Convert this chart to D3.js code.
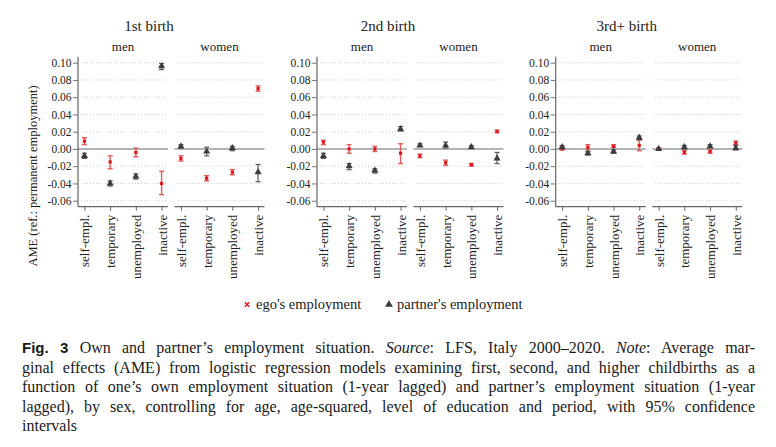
<!DOCTYPE html>
<html>
<head>
<meta charset="utf-8">
<script src="https://cdn.jsdelivr.net/npm/d3@7"></script>
<style>
  body { margin: 0; background: #fff; }
  svg { display: block; }
  svg text { font-family: "Liberation Serif", "Times New Roman", serif; }
</style>
</head>
<body>
<div id="chart"></div>
<script>
// panels and categories
const births = ["1st birth", "2nd birth", "3rd+ birth"];
const sexes = ["men", "women"];
const categories = ["self-empl.", "temporary", "unemployed", "inactive"];
const yTicks = [0.10, 0.08, 0.06, 0.04, 0.02, 0.00, -0.02, -0.04, -0.06];

// AME estimates, [birth][sex][category]
const egoAME = [
  [[0.009, -0.015, -0.004, -0.040], [-0.011, -0.034, -0.027, 0.070]],
  [[0.008, 0.000, 0.000, -0.005], [-0.008, -0.016, -0.018, 0.020]],
  [[0.000, 0.002, 0.003, 0.004], [0.000, -0.004, -0.003, 0.007]]
];
const egoLow = [
  [[0.005, -0.023, -0.009, -0.053], [-0.014, -0.037, -0.030, 0.067]],
  [[0.005, -0.005, -0.003, -0.017], [-0.010, -0.019, -0.020, 0.019]],
  [[-0.001, -0.001, 0.002, -0.002], [-0.001, -0.006, -0.005, 0.005]]
];
const egoHigh = [
  [[0.013, -0.008, 0.001, -0.026], [-0.008, -0.031, -0.024, 0.073]],
  [[0.010, 0.005, 0.003, 0.006], [-0.006, -0.013, -0.017, 0.022]],
  [[0.002, 0.005, 0.005, 0.010], [0.001, -0.002, -0.001, 0.009]]
];
const partnerAME = [
  [[-0.008, -0.040, -0.032, 0.096], [0.003, -0.003, 0.001, -0.027]],
  [[-0.008, -0.020, -0.025, 0.023], [0.004, 0.004, 0.002, -0.011]],
  [[0.002, -0.005, -0.003, 0.013], [0.000, 0.002, 0.003, 0.001]]
];
const partnerLow = [
  [[-0.011, -0.043, -0.035, 0.092], [0.001, -0.008, -0.002, -0.038]],
  [[-0.011, -0.024, -0.028, 0.021], [0.003, 0.001, 0.001, -0.017]],
  [[0.001, -0.007, -0.005, 0.011], [-0.001, 0.000, 0.002, -0.001]]
];
const partnerHigh = [
  [[-0.005, -0.037, -0.029, 0.099], [0.005, 0.002, 0.003, -0.018]],
  [[-0.005, -0.017, -0.023, 0.026], [0.006, 0.008, 0.004, -0.004]],
  [[0.004, -0.003, -0.001, 0.015], [0.001, 0.004, 0.005, 0.004]]
];

const W = 776, H = 447;
const panelX = [78, 317, 555.7];
const subW = 90, subGap = 96.5;
const plotTop = 56.7, plotBottom = 206.7;
const redDark = "#e0161b", redCI = "#e25a5a";
const gray = "#3c3c3c", grayCI = "#5a5a5a";

const svg = d3.select("#chart")
  .append("svg")
  .attr("width", W)
  .attr("height", H);

svg.append("rect").attr("width", W).attr("height", H).attr("fill", "#fff");

const y = d3.scaleLinear()
  .domain([-0.06, 0.10])
  .range([200.7, 62.7]);

const x = d3.scalePoint()
  .domain(categories)
  .range([0, subW])
  .padding(0.25);

const tri = d3.symbol().type(d3.symbolTriangle).size(22);

births.forEach((birth, b) => {
  const px = panelX[b];

  svg.append("text")
    .attr("x", px + 71)
    .attr("y", 31)
    .attr("text-anchor", "middle")
    .attr("font-size", "15px")
    .attr("fill", "#222")
    .text(birth);

  // y axis, only on the left of each birth panel
  const yAxis = svg.append("g")
    .attr("transform", "translate(" + px + ",0)")
    .call(d3.axisLeft(y).tickValues(yTicks).tickSize(5).tickPadding(1.5)
      .tickFormat(d3.format(".2f")));
  yAxis.attr("font-family", null);
  yAxis.select(".domain").remove();
  yAxis.selectAll(".tick line").attr("stroke", "#666").attr("stroke-width", 0.9);
  yAxis.selectAll(".tick text")
    .attr("font-size", "11.5px")
    .attr("fill", "#222")
    .text(d => d3.format(".2f")(d).replace("−", "-"));
  svg.append("line")
    .attr("x1", px).attr("x2", px)
    .attr("y1", plotTop).attr("y2", plotBottom)
    .attr("stroke", "#666").attr("stroke-width", 1.2);

  sexes.forEach((sex, s) => {
    const sx = px + s * subGap;
    const g = svg.append("g").attr("transform", "translate(" + sx + ",0)");

    svg.append("text")
      .attr("x", sx + subW / 2)
      .attr("y", 51)
      .attr("text-anchor", "middle")
      .attr("font-size", "13px")
      .attr("fill", "#222")
      .text(sex);

    // dotted grid lines
    g.selectAll(".grid")
      .data(yTicks.filter(d => d !== 0))
      .enter()
      .append("line")
      .attr("x1", 3).attr("x2", subW)
      .attr("y1", d => y(d)).attr("y2", d => y(d))
      .attr("stroke", "#c4c4c4")
      .attr("stroke-width", 0.9)
      .attr("stroke-dasharray", "1,2");

    // zero line
    g.append("line")
      .attr("x1", 0).attr("x2", subW)
      .attr("y1", y(0)).attr("y2", y(0))
      .attr("stroke", "#6a6a6a").attr("stroke-width", 1.1);

    // x axis
    const xAxis = g.append("g")
      .attr("transform", "translate(0," + plotBottom + ")")
      .call(d3.axisBottom(x).tickSize(4).tickPadding(3));
    xAxis.attr("font-family", null);
    xAxis.select(".domain")
      .attr("d", "M0,0H" + subW)
      .attr("stroke", "#666").attr("stroke-width", 1.2);
    xAxis.selectAll(".tick line").attr("stroke", "#666");
    xAxis.selectAll(".tick text")
      .attr("font-size", "13px")
      .attr("fill", "#222")
      .attr("transform", "rotate(-90)")
      .attr("text-anchor", "end")
      .attr("x", -8)
      .attr("y", 0)
      .attr("dy", "0.35em");

    const ego = categories.map((c, i) => ({
      c, est: egoAME[b][s][i], lo: egoLow[b][s][i], hi: egoHigh[b][s][i]
    }));
    const partner = categories.map((c, i) => ({
      c, est: partnerAME[b][s][i], lo: partnerLow[b][s][i], hi: partnerHigh[b][s][i]
    }));

    drawCI(g, ego, redCI, 1.4);
    g.selectAll(".ego")
      .data(ego)
      .enter()
      .append("rect")
      .attr("class", "ego")
      .attr("x", d => x(d.c) - 1.6)
      .attr("y", d => y(d.est) - 1.6)
      .attr("width", 3.2)
      .attr("height", 3.2)
      .attr("fill", redDark);

    drawCI(g, partner, grayCI, 1.2);
    g.selectAll(".partner")
      .data(partner)
      .enter()
      .append("path")
      .attr("class", "partner")
      .attr("d", tri)
      .attr("transform", d => "translate(" + x(d.c) + "," + y(d.est) + ")")
      .attr("fill", gray);
  });
});

function drawCI(g, rows, color, w) {
  const ci = g.append("g").attr("stroke", color).attr("stroke-width", w);
  ci.selectAll(".v").data(rows).enter().append("line")
    .attr("x1", d => x(d.c)).attr("x2", d => x(d.c))
    .attr("y1", d => y(d.lo)).attr("y2", d => y(d.hi));
  ci.selectAll(".lo").data(rows).enter().append("line")
    .attr("x1", d => x(d.c) - 2.5).attr("x2", d => x(d.c) + 2.5)
    .attr("y1", d => y(d.lo)).attr("y2", d => y(d.lo));
  ci.selectAll(".hi").data(rows).enter().append("line")
    .attr("x1", d => x(d.c) - 2.5).attr("x2", d => x(d.c) + 2.5)
    .attr("y1", d => y(d.hi)).attr("y2", d => y(d.hi));
}

// y axis title
svg.append("text")
  .attr("transform", "translate(37,176) rotate(-90)")
  .attr("text-anchor", "middle")
  .attr("font-size", "12.5px")
  .attr("fill", "#222")
  .text("AME (ref.: permanent employment)");

// legend
const legend = svg.append("g").attr("font-size", "14.5px").attr("fill", "#222");
legend.append("path")
  .attr("d", d3.symbol().type(d3.symbolX).size(14))
  .attr("transform", "translate(247,304.5)")
  .attr("stroke", redDark).attr("stroke-width", 1.5);
legend.append("text").attr("x", 256).attr("y", 309).text("ego's employment");
legend.append("path")
  .attr("d", d3.symbol().type(d3.symbolTriangle).size(26))
  .attr("transform", "translate(389,304.5)")
  .attr("fill", gray);
legend.append("text").attr("x", 397).attr("y", 309).text("partner's employment");

// caption, justified by adjusting word spacing
const capLeft = 22, capRight = 755;
const capLines = [
  [["b", "Fig. 3"], ["r", " Own and partner’s employment situation. "], ["i", "Source"],
   ["r", ": LFS, Italy 2000–2020. "], ["i", "Note"], ["r", ": Average mar-"]],
  [["r", "ginal effects (AME) from logistic regression models examining first, second, and higher childbirths as a"]],
  [["r", "function of one’s own employment situation (1-year lagged) and partner’s employment situation (1-year"]],
  [["r", "lagged), by sex, controlling for age, age-squared, level of education and period, with 95% confidence"]],
  [["r", "intervals"]]
];
const capY = [353, 372.5, 392, 411.5, 431];

capLines.forEach((parts, li) => {
  const t = svg.append("text")
    .attr("x", capLeft)
    .attr("y", capY[li])
    .attr("font-size", "16px")
    .attr("fill", "#1a1a1a");
  parts.forEach(([k, s]) => {
    const ts = t.append("tspan").text(s);
    if (k === "b") ts.style("font-family", "'Liberation Sans', Arial, sans-serif")
      .attr("font-weight", "bold").attr("font-size", "15px");
    if (k === "i") ts.attr("font-style", "italic");
  });
  if (li < capLines.length - 1) {
    const natural = t.node().getComputedTextLength();
    const txt = parts.map(p => p[1]).join("");
    const spaces = (txt.match(/ /g) || []).length;
    t.attr("word-spacing", ((capRight - capLeft - natural) / spaces) + "px");
  }
});
</script>
</body>
</html>
